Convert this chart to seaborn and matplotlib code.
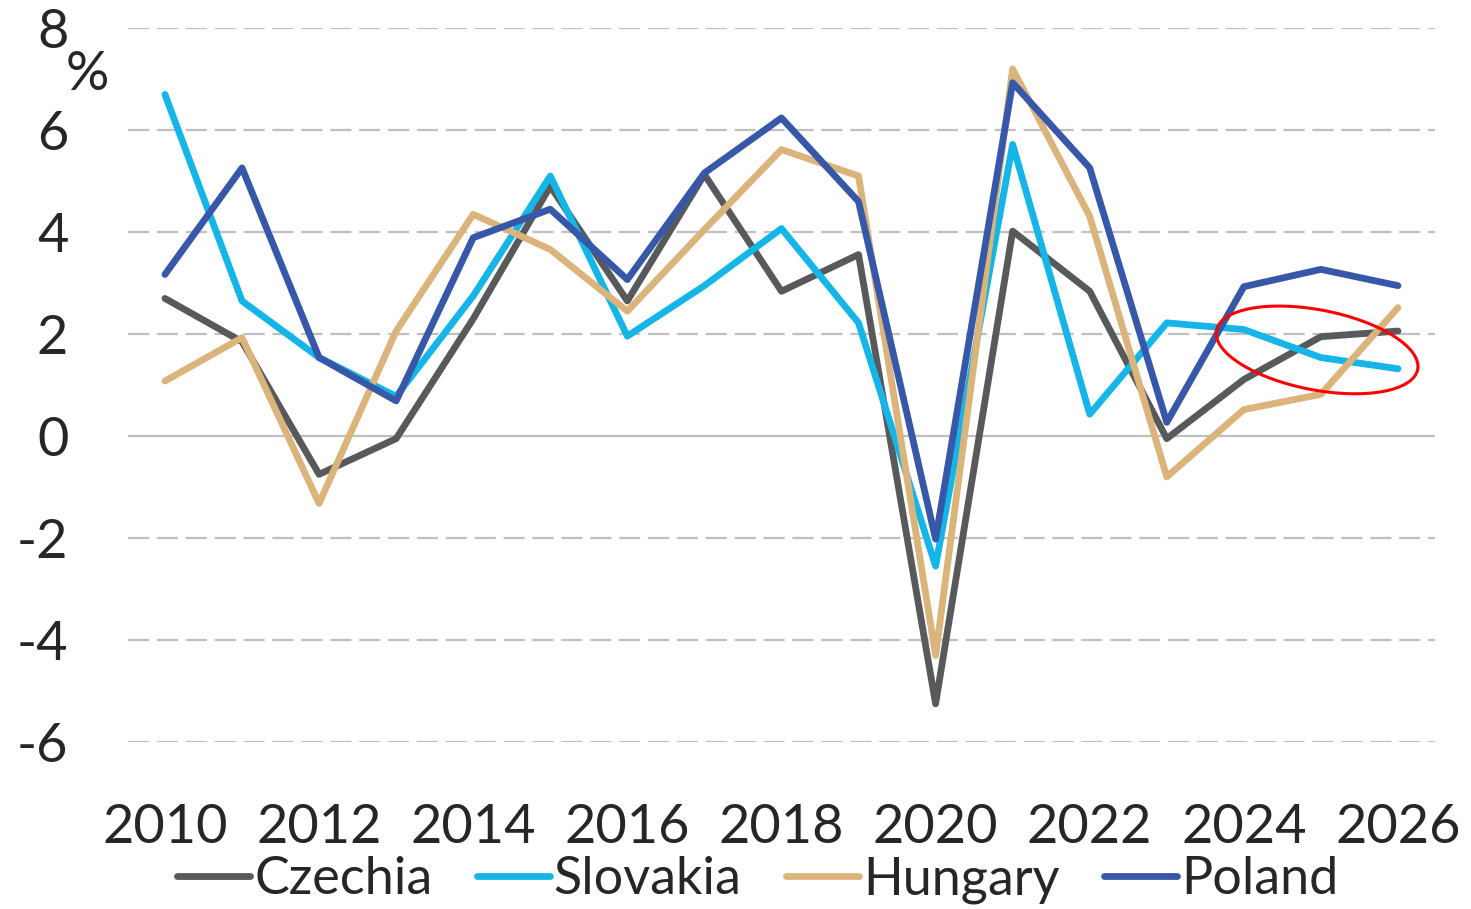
import numpy as np
import pandas as pd
import matplotlib
matplotlib.use("Agg")
import matplotlib.pyplot as plt
import seaborn as sns
from matplotlib.patches import Ellipse
from matplotlib.transforms import IdentityTransform

years = list(range(2010, 2027))
czechia = [2.7, 1.85, -0.75, -0.05, 2.3, 4.9, 2.65, 5.13, 2.84, 3.56, -5.25, 4.02, 2.84, -0.05, 1.11, 1.95, 2.06]
slovakia = [6.7, 2.65, 1.54, 0.78, 2.75, 5.1, 1.96, 2.95, 4.07, 2.22, -2.55, 5.72, 0.43, 2.22, 2.09, 1.54, 1.32]
hungary = [1.08, 1.93, -1.32, 2.06, 4.35, 3.66, 2.45, 4.05, 5.62, 5.1, -4.3, 7.2, 4.31, -0.8, 0.52, 0.82, 2.52]
poland = [3.17, 5.26, 1.54, 0.69, 3.89, 4.45, 3.07, 5.16, 6.24, 4.6, -2.02, 6.93, 5.26, 0.27, 2.93, 3.27, 2.95]

countries = ["Czechia", "Slovakia", "Hungary", "Poland"]
colors = ["#58595B", "#15B5E8", "#DBB47C", "#3757A8"]
y_ticks = [-6, -4, -2, 0, 2, 4, 6, 8]
x_ticks = list(range(2010, 2027, 2))

df = pd.DataFrame({"year": years, "Czechia": czechia, "Slovakia": slovakia,
                   "Hungary": hungary, "Poland": poland})
long_df = df.melt(id_vars="year", var_name="country", value_name="growth")

sns.set_style("white")
plt.rcParams["font.family"] = ["Lato", "DejaVu Sans"]

fig = plt.figure(figsize=(14.71, 9.09), dpi=100)
ax = fig.add_axes([0.087, 0.1837, 0.8885, 0.7853])

# gridlines: dashed, zero line solid
for t in y_ticks:
    if t == 0:
        ax.axhline(t, color="#BFBFBF", lw=1.6, zorder=1)
    else:
        ax.axhline(t, color="#BFBFBF", lw=1.6, ls=(0, (9.5, 3.5)), zorder=1)

sns.lineplot(data=long_df, x="year", y="growth", hue="country", hue_order=countries,
             palette=colors, linewidth=4.9, ax=ax, zorder=3,
             solid_capstyle="round", solid_joinstyle="round")

ax.set_xlim(2009.52, 2026.48)
ax.set_ylim(-6, 8)
ax.set_xticks(x_ticks)
ax.set_yticks(y_ticks)
ax.set_xticklabels([str(x) for x in x_ticks], fontsize=39)
ax.set_yticklabels([str(y) for y in y_ticks], fontsize=39)
ax.tick_params(axis="x", length=0, pad=44)
ax.tick_params(axis="y", length=0, pad=43)
ax.set_xlabel("")
ax.set_ylabel("")
for s in ax.spines.values():
    s.set_visible(False)

fig.text(87 / 1471, 1 - 74 / 909, "%", fontsize=39, ha="center", va="center")

handles, labels = ax.get_legend_handles_labels()
ax.get_legend().remove()
fig.legend(handles, labels, loc="center", bbox_to_anchor=(0.515, 0.032), ncol=4,
           frameon=False, fontsize=37.5, handlelength=1.4, handletextpad=0.08,
           columnspacing=0.85)

# red ellipse highlighting the forecast years
fig.canvas.draw()
cx, cy = ax.transData.transform((2024.95, 1.69))
ax.add_patch(Ellipse((cx, cy), width=205, height=80, angle=-11, fill=False,
                     edgecolor="red", lw=2.2, transform=IdentityTransform(), zorder=5))

fig.savefig("out.png", dpi=100)
